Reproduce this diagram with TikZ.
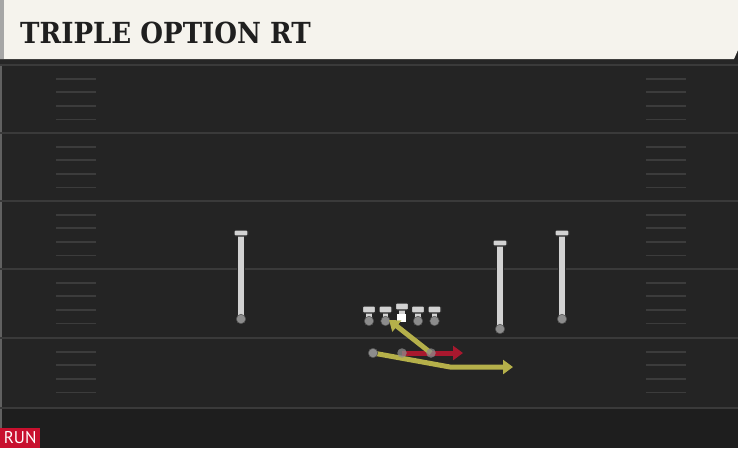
\documentclass[tikz,border=0pt]{standalone}
\usepackage{fontspec}
\usetikzlibrary{arrows.meta}
\newfontfamily\titlefont{DejaVu Serif Condensed}
\newfontfamily\runfont{PT Sans}
\definecolor{fieldbg}{HTML}{242424}
\definecolor{fieldlow}{HTML}{1E1E1E}
\definecolor{yardln}{HTML}{3A3A3A}
\definecolor{hashc}{HTML}{3C3C3C}
\definecolor{cream}{HTML}{F5F3ED}
\definecolor{plgray}{HTML}{D2D2D2}
\definecolor{dotgray}{HTML}{8C8C8C}
\definecolor{routey}{HTML}{B5B04A}
\definecolor{router}{HTML}{A8182E}
\definecolor{runred}{HTML}{C8102E}
\tikzset{
  yardline/.style={draw=yardln, line width=2pt},
  hashmark/.style={draw=hashc, line width=1.8pt},
  pdot/.style={circle, fill=dotgray, draw=black!70, line width=0.5pt, inner sep=0pt, minimum size=9.5pt},
  rdot/.style={circle, fill=dotgray, fill opacity=0.75, inner sep=0pt, minimum size=9.5pt},
  ybar/.style={line width=5pt, draw=routey, -{Triangle[length=10pt,width=14pt]}},
  rbar/.style={line width=5pt, draw=router, -{Triangle[length=10pt,width=14pt]}},
  tstem/.style={draw=black!85, line width=7.5pt},
  tstemin/.style={draw=plgray, line width=5.2pt},
  tbar/.style={fill=plgray, draw=black!85, line width=1.1pt, rounded corners=1.2pt},
}
% player glyph: #1 x, #2 top y, #3 bottom y, #4 half bar width, #5 bar height, #6 name
\newcommand{\tplayer}[6]{%
  \draw[tstem] (#1,#2+3) -- (#1,#3);
  \draw[tstemin] (#1,#2+3) -- (#1,#3);
  \filldraw[tbar] (#1-#4,#2) rectangle (#1+#4,#2+#5);
  \node[pdot] (#6) at (#1,#3) {};
}
\begin{document}
\begin{tikzpicture}[x=1pt,y=-1pt]
\useasboundingbox (0,0) rectangle (738,448);
% field
\fill[fieldbg] (0,0) rectangle (738,448);
\fill[fieldlow] (0,408) rectangle (738,448);
\draw[yardln!80, line width=1.5pt] (1,60) -- (1,448);
% yard lines
\foreach \y in {65,133,201,269,338,408} {
  \draw[yardline] (0,\y) -- (738,\y);
}
% hash marks
\foreach \y in {65,133,201,269,338} {
  \foreach \k in {1,2,3,4} {
    \draw[hashmark] (56,\y+13.6*\k) -- (96,\y+13.6*\k);
    \draw[hashmark] (646,\y+13.6*\k) -- (686,\y+13.6*\k);
  }
}
% header
\fill[black!85] (0,58) rectangle (738,64);
\fill[cream] (0,0) -- (738,0) -- (738,50) -- (734,59) -- (0,59) -- cycle;
\fill[black!35] (0,0) rectangle (4,59);
\node[anchor=west, inner sep=0pt, text=black!88] (title) at (20,32.5)
  {\titlefont\bfseries\fontsize{29}{30}\selectfont TRIPLE OPTION RT};
% defenders
\tplayer{241}{230}{319}{7}{6}{lb1}
\tplayer{500}{240}{329}{7}{6}{lb2}
\tplayer{562}{230}{319}{7}{6}{lb3}
% line
\tplayer{369}{306}{321}{6.5}{7}{ol1}
\tplayer{385.5}{306}{321}{6.5}{7}{ol2}
\tplayer{418}{306}{321}{6.5}{7}{ol4}
\tplayer{434.5}{306}{321}{6.5}{7}{ol5}
% center with ball
\draw[tstem] (402,306) -- (402,316);
\draw[tstemin] (402,306) -- (402,316);
\filldraw[tbar] (395.5,303) rectangle (408.5,310);
\node[fill=white, inner sep=0pt, minimum size=8.5pt] (ball) at (401.5,318) {};
% backs and routes
\coordinate (qbback) at (373,353);
\coordinate (fb) at (402,353);
\coordinate (hb) at (431,353);
\coordinate (bend) at (450,367);
\coordinate (yend) at (513,367);
\coordinate (rend) at (463,353);
\coordinate (dive) at (389,320);
\draw[rbar] (fb) -- (rend);
\draw[ybar, line join=round] (qbback) -- (bend) -- (yend);
\draw[ybar] (hb) -- (dive);
\node[pdot] (b1) at (qbback) {};
\node[rdot] (b2) at (fb) {};
\node[rdot] (b3) at (hb) {};
% RUN badge
\node[fill=runred, text=white, inner sep=0pt, minimum width=40pt, minimum height=20pt, anchor=south west, font=\runfont\fontsize{17}{17}\selectfont] (run) at (0,448) {RUN};
\end{tikzpicture}
\end{document}
